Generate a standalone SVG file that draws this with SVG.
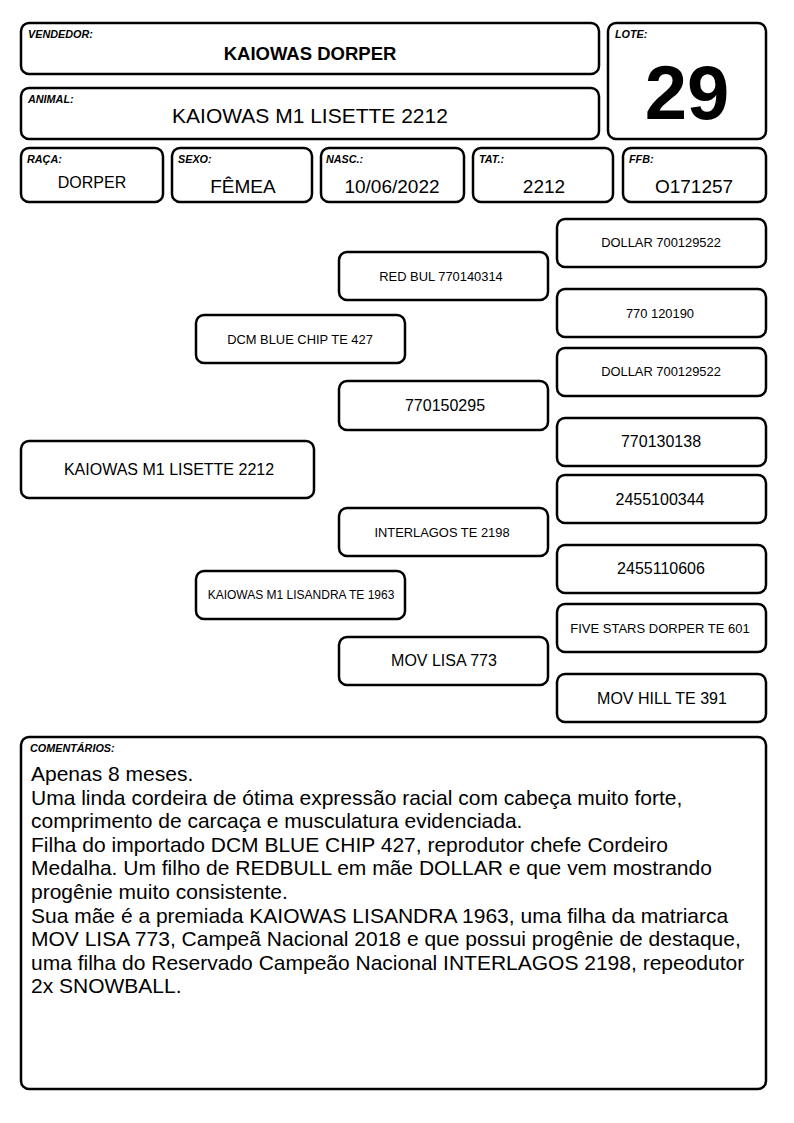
<svg xmlns="http://www.w3.org/2000/svg" width="794" height="1123" viewBox="0 0 794 1123">
<style>
.box{fill:#fff;stroke:#000;stroke-width:2.5}
.lbl{font-family:"Liberation Sans",Arial,sans-serif;font-size:10.8px;font-weight:bold;font-style:italic;fill:#000}
.t{font-family:"Liberation Sans",Arial,sans-serif;fill:#000;text-anchor:middle}
.s12{font-size:12.9px}
.s16{font-size:16px}
.cm{font-family:"Liberation Sans",Arial,sans-serif;font-size:21px;fill:#000}
</style>
<rect width="794" height="1123" fill="#fff"/>
<g id="vendedor">
<rect class="box" x="21" y="23" width="578" height="51" rx="8"/>
<text class="lbl" x="28" y="38">VENDEDOR:</text>
<text class="t" x="310" y="60" font-size="18.5" font-weight="bold">KAIOWAS DORPER</text>
</g>
<g id="animal">
<rect class="box" x="21" y="88" width="578" height="51" rx="8"/>
<text class="lbl" x="28" y="103">ANIMAL:</text>
<text class="t" x="310" y="123" font-size="21">KAIOWAS M1 LISETTE 2212</text>
</g>
<g id="lote">
<rect class="box" x="608" y="23" width="158" height="116" rx="8"/>
<text class="lbl" x="615" y="38">LOTE:</text>
<text class="t" x="687" y="119" font-size="76" font-weight="bold">29</text>
</g>
<g id="raca">
<rect class="box" x="21" y="148" width="142" height="54" rx="8"/>
<text class="lbl" x="27" y="163">RAÇA:</text>
<text class="t" x="92" y="188" font-size="16">DORPER</text>
</g>
<g id="sexo">
<rect class="box" x="172" y="148" width="140" height="54" rx="8"/>
<text class="lbl" x="178" y="163">SEXO:</text>
<text class="t" x="243" y="193" font-size="19">FÊMEA</text>
</g>
<g id="nasc">
<rect class="box" x="321" y="148" width="143" height="54" rx="8"/>
<text class="lbl" x="326" y="163">NASC.:</text>
<text class="t" x="392" y="193" font-size="19">10/06/2022</text>
</g>
<g id="tat">
<rect class="box" x="473" y="148" width="140" height="54" rx="8"/>
<text class="lbl" x="479" y="163">TAT.:</text>
<text class="t" x="544" y="193" font-size="19">2212</text>
</g>
<g id="ffb">
<rect class="box" x="623" y="148" width="143" height="54" rx="8"/>
<text class="lbl" x="629" y="163">FFB:</text>
<text class="t" x="694" y="193" font-size="19">O171257</text>
</g>
<g id="connectors"></g>
<g id="p-root">
<rect class="box" x="21" y="441" width="293" height="57" rx="8"/>
<text class="t s16" x="169" y="475">KAIOWAS M1 LISETTE 2212</text>
</g>
<g id="p-sire">
<rect class="box" x="196" y="315" width="209" height="48" rx="8"/>
<text class="t s12" x="300" y="344">DCM BLUE CHIP TE 427</text>
</g>
<g id="p-dam">
<rect class="box" x="196" y="571" width="209" height="48" rx="8"/>
<text class="t" x="301" y="599" font-size="12">KAIOWAS M1 LISANDRA TE 1963</text>
</g>
<g id="p-ss">
<rect class="box" x="339" y="252" width="209" height="48" rx="8"/>
<text class="t s12" x="441" y="281">RED BUL 770140314</text>
</g>
<g id="p-sd">
<rect class="box" x="339" y="381" width="209" height="49" rx="8"/>
<text class="t s16" x="445" y="411">770150295</text>
</g>
<g id="p-ds">
<rect class="box" x="339" y="508" width="209" height="48" rx="8"/>
<text class="t s12" x="442" y="537">INTERLAGOS TE 2198</text>
</g>
<g id="p-dd">
<rect class="box" x="339" y="637" width="209" height="48" rx="8"/>
<text class="t s16" x="444" y="666">MOV LISA 773</text>
</g>
<g id="p-sss">
<rect class="box" x="557" y="219" width="209" height="48" rx="8"/>
<text class="t s12" x="661" y="247">DOLLAR 700129522</text>
</g>
<g id="p-ssd">
<rect class="box" x="557" y="289" width="209" height="48" rx="8"/>
<text class="t s12" x="660" y="318">770 120190</text>
</g>
<g id="p-sds">
<rect class="box" x="557" y="348" width="209" height="48" rx="8"/>
<text class="t s12" x="661" y="376">DOLLAR 700129522</text>
</g>
<g id="p-sdd">
<rect class="box" x="557" y="418" width="209" height="48" rx="8"/>
<text class="t s16" x="661" y="447">770130138</text>
</g>
<g id="p-dss">
<rect class="box" x="557" y="475" width="209" height="48" rx="8"/>
<text class="t s16" x="660" y="505">2455100344</text>
</g>
<g id="p-dsd">
<rect class="box" x="557" y="545" width="209" height="48" rx="8"/>
<text class="t s16" x="661" y="574">2455110606</text>
</g>
<g id="p-dds">
<rect class="box" x="557" y="604" width="209" height="48" rx="8"/>
<text class="t" x="660" y="633" font-size="13">FIVE STARS DORPER TE 601</text>
</g>
<g id="p-ddd">
<rect class="box" x="557" y="674" width="209" height="48" rx="8"/>
<text class="t s16" x="662" y="704">MOV HILL TE 391</text>
</g>
<g id="comentarios">
<rect class="box" x="21" y="737" width="745" height="352" rx="8"/>
<text class="lbl" x="30" y="752">COMENTÁRIOS:</text>
<text class="cm" x="31" y="781">Apenas 8 meses.</text>
<text class="cm" x="31" y="804.6">Uma linda cordeira de ótima expressão racial com cabeça muito forte,</text>
<text class="cm" x="31" y="828.2">comprimento de carcaça e musculatura evidenciada.</text>
<text class="cm" x="31" y="851.8">Filha do importado DCM BLUE CHIP 427, reprodutor chefe Cordeiro</text>
<text class="cm" x="31" y="875.4">Medalha. Um filho de REDBULL em mãe DOLLAR e que vem mostrando</text>
<text class="cm" x="31" y="899">progênie muito consistente.</text>
<text class="cm" x="31" y="922.6">Sua mãe é a premiada KAIOWAS LISANDRA 1963, uma filha da matriarca</text>
<text class="cm" x="31" y="946.2">MOV LISA 773, Campeã Nacional 2018 e que possui progênie de destaque,</text>
<text class="cm" x="31" y="969.8">uma filha do Reservado Campeão Nacional INTERLAGOS 2198, repeodutor</text>
<text class="cm" x="31" y="993.4">2x SNOWBALL.</text>
</g>
</svg>
